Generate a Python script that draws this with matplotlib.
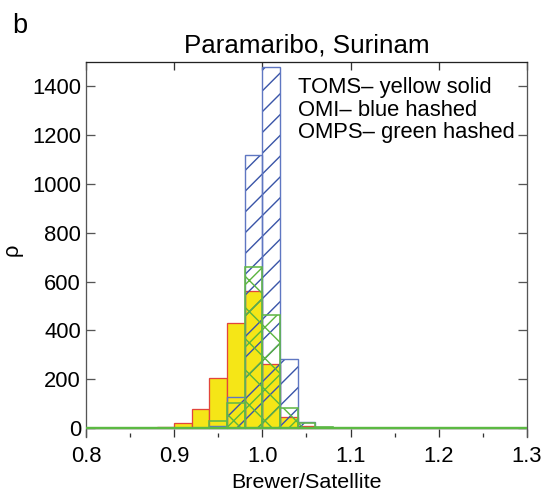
# -*- coding: utf-8 -*-
"""
Brewer / satellite total ozone ratio histogram, Paramaribo
"""

import numpy as np
import matplotlib
matplotlib.use("Agg")
import matplotlib.pyplot as plt

# figure is laid out in pixels, DPI picked so the hatch spacing looks right
DPI = 187


def px(v):
    """pixels -> points at the figure DPI"""
    return v * 72.0 / DPI


# histogram bins (left edges), width 0.02, range 0.8 .. 1.3
bin_left = np.round(np.arange(0.80, 1.30, 0.02), 2)
bin_width = 0.02

counts_start = 0.88
toms_counts = [5, 20, 80, 204, 429, 563, 263, 45, 7, 2, 0]
omi_counts = [0, 0, 0, 10, 127, 1119, 1476, 282, 25, 3, 0]
omps_counts = [0, 0, 2, 30, 105, 658, 462, 82, 20, 3, 1]

xticks = [0.8, 0.9, 1.0, 1.1, 1.2, 1.3]
xticklabels = ["0.8", "0.9", "1.0", "1.1", "1.2", "1.3"]
yticks = [0, 200, 400, 600, 800, 1000, 1200, 1400]


def full_range(counts):
    """pad a short list of counts with zeros over all bins"""
    out = np.zeros(len(bin_left))
    i0 = int(round((counts_start - bin_left[0]) / bin_width))
    out[i0:i0 + len(counts)] = counts
    return out


plt.rcParams['font.family'] = ['Liberation Sans', 'DejaVu Sans']
plt.rcParams['hatch.linewidth'] = px(1.4)

fig = plt.figure(figsize=(548 / DPI, 497 / DPI), dpi=DPI)
ax = fig.add_axes([86 / 548, 1 - 437 / 497, 441 / 548, 375 / 497])

# TOMS - yellow solid
ax.bar(bin_left, full_range(toms_counts), width=bin_width, align='edge',
       color='#f5e617', edgecolor='#e2463c', linewidth=px(1.3), zorder=2)

# OMI - blue hashed (hatch layer + outline)
omi = full_range(omi_counts)
ax.bar(bin_left, omi, width=bin_width, align='edge', fill=False,
       hatch='///', edgecolor='#3a55a8', linewidth=0, zorder=3)
ax.bar(bin_left, omi, width=bin_width, align='edge', fill=False,
       edgecolor='#5f77c2', linewidth=px(1.4), zorder=3)

# OMPS - green hashed
omps = full_range(omps_counts)
ax.bar(bin_left, omps, width=bin_width, align='edge', fill=False,
       hatch='xx', edgecolor='#5bb53f', linewidth=0, zorder=4)
ax.bar(bin_left, omps, width=bin_width, align='edge', fill=False,
       edgecolor='#62b848', linewidth=px(1.6), zorder=4)
ax.axhline(0, color='#5cb943', linewidth=px(2.4), zorder=4)

ax.set_xlim(0.8, 1.3)
ax.set_ylim(-36, 1498)

# axes styling
for side in ['left', 'right', 'top']:
    ax.spines[side].set_color('#555555')
    ax.spines[side].set_linewidth(px(1.3))
ax.spines['top'].set_color('#222222')
ax.spines['bottom'].set_visible(False)

ax.set_xticks(xticks)
ax.set_xticklabels(xticklabels)
ax.set_xticks(np.arange(0.85, 1.3, 0.1), minor=True)
ax.set_yticks(yticks)

ax.tick_params(axis='x', which='major', direction='in', length=px(8),
               width=px(1.3), color='#333333', top=True, bottom=True,
               pad=px(9), labelsize=px(22))
ax.tick_params(axis='x', which='minor', direction='in', length=px(4),
               width=px(1.3), color='#333333', top=False, bottom=True)
ax.tick_params(axis='y', which='major', direction='in', length=px(9),
               width=px(1.3), color='#555555', left=True, right=True,
               pad=px(5), labelsize=px(22))

ax.set_xlabel('Brewer/Satellite', fontsize=px(21.5), labelpad=px(6))
ax.set_ylabel('ρ', fontsize=px(22), labelpad=px(9))

fig.text(306.5 / 548, 1 - 52 / 497, 'Paramaribo, Surinam', ha='center',
         va='baseline', fontsize=px(26))
fig.text(12 / 548, 1 - 33 / 497, 'b', ha='left', va='baseline',
         fontsize=px(27))

# key text in the upper right
key_lines = ['TOMS\u2013 yellow solid', 'OMI\u2013 blue hashed',
             'OMPS\u2013 green hashed']
for i, line in enumerate(key_lines):
    fig.text(298 / 548, 1 - (93 + 22.5 * i) / 497, line, ha='left',
             va='baseline', fontsize=px(22))

fig.savefig('out.png', dpi=DPI)
plt.close(fig)
